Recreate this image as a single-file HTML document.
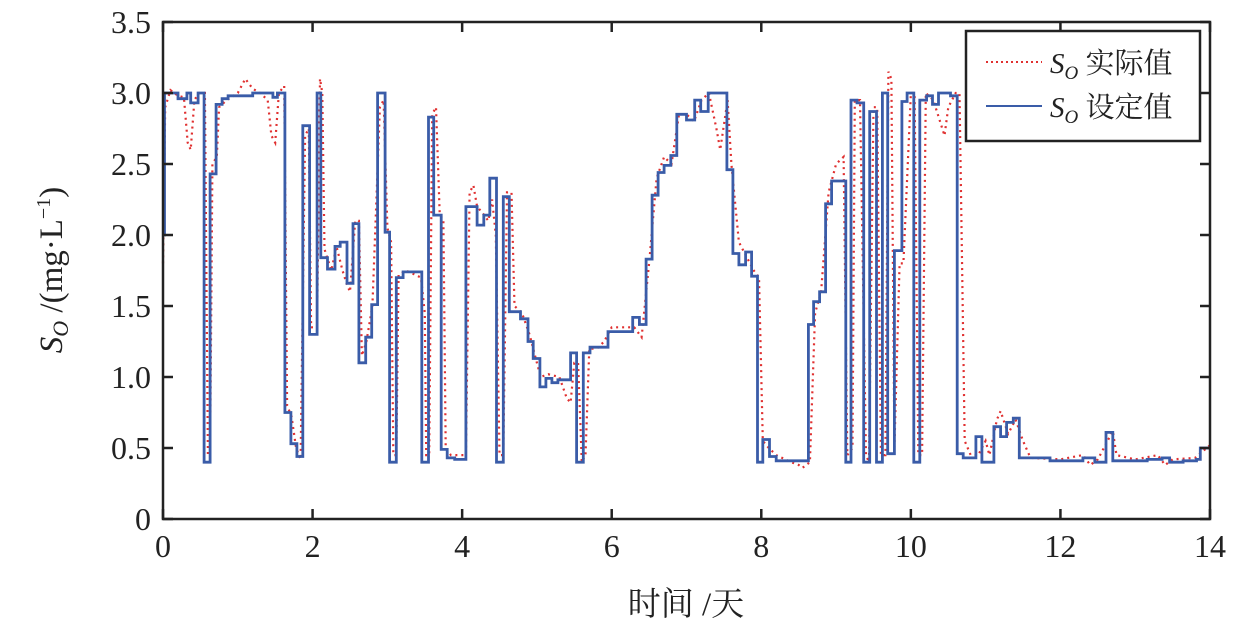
<!DOCTYPE html>
<html><head><meta charset="utf-8"><style>
html,body{margin:0;padding:0;background:#fff;}
svg{display:block;}
text{font-family:"Liberation Serif","Noto Serif CJK SC",serif;fill:#222;}
</style></head><body>
<svg id="chart" width="1260" height="631" viewBox="0 0 1260 631">
<rect x="0" y="0" width="1260" height="631" fill="#fff"/>
<g id="plot"></g>
<g id="axes"></g>
<g>
<rect x="966" y="31" width="234" height="110" fill="#fff" stroke="#222" stroke-width="2.5"/>
<line x1="986" y1="62" x2="1042" y2="62" stroke="#e03030" stroke-width="2" stroke-dasharray="2,3"/>
<text x="1050" y="73" font-size="29"><tspan font-style="italic">S</tspan><tspan font-style="italic" font-size="19" dy="6">O</tspan><tspan dy="-6"> 实际值</tspan></text>
<line x1="986" y1="106" x2="1042" y2="106" stroke="#3a5ca8" stroke-width="2"/>
<text x="1050" y="117" font-size="29"><tspan font-style="italic">S</tspan><tspan font-style="italic" font-size="19" dy="6">O</tspan><tspan dy="-6"> 设定值</tspan></text>
</g>
<text x="686" y="615" font-size="33" text-anchor="middle">时间 /天</text>
<text transform="translate(62,270) rotate(-90)" font-size="33" text-anchor="middle"><tspan font-style="italic">S</tspan><tspan font-style="italic" font-size="22" dy="6">O</tspan><tspan dy="-6"> /(mg·L</tspan><tspan font-size="20" dy="-12">−1</tspan><tspan dy="12">)</tspan></text>
</svg>
<script>
const xTicks = [0,2,4,6,8,10,12,14];
const yTicks = [0,0.5,1.0,1.5,2.0,2.5,3.0,3.5];
const yTickLabels = ["0","0.5","1.0","1.5","2.0","2.5","3.0","3.5"];
const setDays = [0,0.02,0.2,0.32,0.37,0.47,0.55,0.63,0.71,0.79,0.87,1.2,1.47,1.53,1.63,1.71,1.79,1.87,1.96,2.06,2.11,2.2,2.3,2.37,2.46,2.54,2.62,2.71,2.79,2.87,2.97,3.03,3.12,3.21,3.46,3.55,3.62,3.72,3.8,3.9,4.05,4.2,4.29,4.37,4.46,4.55,4.63,4.78,4.88,4.95,5.04,5.12,5.2,5.28,5.45,5.53,5.62,5.71,5.95,6.28,6.37,6.46,6.54,6.62,6.7,6.79,6.87,7.0,7.11,7.19,7.29,7.54,7.62,7.7,7.79,7.87,7.95,8.02,8.11,8.2,8.63,8.7,8.78,8.86,8.94,9.13,9.2,9.28,9.37,9.45,9.54,9.62,9.69,9.78,9.88,9.95,10.04,10.12,10.21,10.29,10.37,10.53,10.62,10.7,10.87,10.95,11.11,11.2,11.28,11.37,11.45,11.86,12.3,12.46,12.61,12.7,13.16,13.36,13.46,13.64,13.82,13.87,14];
const setValues = [2.0,3.0,2.96,3.0,2.93,3.0,0.4,2.43,2.92,2.96,2.98,3.0,2.97,3.0,0.75,0.53,0.44,2.77,1.3,3.0,1.84,1.76,1.92,1.95,1.66,2.08,1.1,1.28,1.51,3.0,2.02,0.4,1.7,1.74,0.4,2.83,2.14,0.49,0.43,0.42,2.2,2.07,2.14,2.4,0.4,2.27,1.46,1.41,1.25,1.13,0.93,0.99,0.96,0.98,1.17,0.4,1.17,1.21,1.32,1.42,1.37,1.83,2.28,2.44,2.49,2.56,2.85,2.81,2.95,2.87,3.0,2.46,1.87,1.79,1.88,1.71,0.4,0.56,0.44,0.41,1.37,1.53,1.6,2.22,2.38,0.4,2.95,2.93,0.4,2.87,0.4,3.0,0.46,1.89,2.94,3.0,0.4,2.95,2.98,2.92,3.0,2.98,0.46,0.43,0.58,0.4,0.65,0.58,0.68,0.71,0.43,0.41,0.43,0.4,0.61,0.41,0.42,0.43,0.4,0.41,0.42,0.5,0.5];
const actDays = [0,0.03,0.1,0.2,0.28,0.33,0.37,0.42,0.48,0.56,0.6,0.63,0.66,0.72,0.75,0.85,1.0,1.1,1.2,1.3,1.4,1.45,1.5,1.55,1.62,1.66,1.72,1.78,1.84,1.9,1.95,1.98,2.06,2.1,2.13,2.16,2.25,2.32,2.4,2.46,2.5,2.57,2.62,2.66,2.72,2.8,2.9,2.95,3.0,3.05,3.08,3.12,3.15,3.25,3.45,3.5,3.52,3.56,3.6,3.65,3.7,3.75,3.78,3.85,4.05,4.1,4.15,4.2,4.28,4.35,4.4,4.45,4.5,4.55,4.6,4.66,4.7,4.8,4.9,5.0,5.05,5.15,5.3,5.4,5.45,5.5,5.55,5.6,5.65,5.7,5.8,5.9,6.0,6.2,6.3,6.4,6.5,6.6,6.7,6.8,6.9,7.0,7.1,7.2,7.3,7.4,7.45,7.55,7.6,7.7,7.8,7.9,7.97,8.02,8.1,8.2,8.4,8.5,8.55,8.65,8.72,8.8,8.9,9.0,9.1,9.15,9.22,9.25,9.32,9.4,9.44,9.5,9.55,9.6,9.66,9.7,9.74,9.78,9.85,9.9,10.0,10.05,10.1,10.15,10.2,10.3,10.45,10.5,10.6,10.65,10.72,10.8,10.9,11.0,11.05,11.15,11.2,11.3,11.4,11.5,11.6,12.0,12.3,12.4,12.5,12.7,12.75,13.0,13.3,13.4,13.5,13.8,14.0];
const actValues = [1.8,2.9,3.02,2.98,2.97,2.65,2.6,2.95,3.0,3.0,0.45,0.45,2.5,2.55,2.9,2.95,3.0,3.1,3.03,3.0,2.95,2.7,2.65,3.0,3.05,0.8,0.72,0.5,0.42,2.7,2.75,1.35,1.35,3.1,3.0,1.9,1.75,1.92,1.75,1.65,1.6,2.1,2.1,1.15,1.25,1.5,2.9,2.95,2.05,1.95,0.45,0.45,1.72,1.75,1.7,1.45,0.45,0.45,2.85,2.9,2.15,2.1,0.5,0.45,0.45,2.3,2.35,2.2,2.15,2.1,2.25,2.0,0.45,0.45,2.3,2.3,1.5,1.45,1.3,1.1,1.0,1.02,1.0,0.85,0.82,1.1,1.1,0.4,0.45,1.2,1.2,1.25,1.35,1.35,1.35,1.28,1.8,2.4,2.55,2.5,2.85,2.85,2.8,2.95,3.0,2.75,2.6,2.95,2.5,1.95,1.85,1.75,1.7,0.55,0.5,0.45,0.4,0.38,0.36,0.4,1.45,1.6,2.3,2.5,2.55,0.45,0.5,2.95,2.95,0.45,0.4,2.9,2.9,0.45,0.45,3.15,3.1,0.5,1.8,1.8,3.0,3.0,0.45,0.45,3.0,2.95,2.7,2.9,3.0,3.0,0.55,0.45,0.45,0.55,0.45,0.7,0.76,0.6,0.7,0.55,0.43,0.42,0.45,0.38,0.42,0.62,0.45,0.42,0.45,0.38,0.42,0.43,0.52];

const X0=163,X1=1210,Y0=519,Y1=22;
function sx(d){return X0+(d-0)/(14-0)*(X1-X0);}
function sy(v){return Y0-(v-0)/(3.5-0)*(Y0-Y1);}
const NS="http://www.w3.org/2000/svg";
const plot=document.getElementById('plot');
const axes=document.getElementById('axes');

// actual (red dotted)
let pa="";
for(let i=0;i<actDays.length;i++){pa+=(i?"L":"M")+sx(actDays[i]).toFixed(1)+","+sy(actValues[i]).toFixed(1);}
const ra=document.createElementNS(NS,'path');
ra.setAttribute('d',pa);ra.setAttribute('fill','none');ra.setAttribute('stroke','#e03030');
ra.setAttribute('stroke-width','2.2');ra.setAttribute('stroke-dasharray','2,4');


plot.appendChild(ra);

// setpoint (blue step)
let ps="";
for(let i=0;i<setDays.length;i++){
  const x=sx(setDays[i]).toFixed(1), y=sy(setValues[i]).toFixed(1);
  if(i===0) ps+="M"+x+","+y;
  else ps+="L"+x+","+sy(setValues[i-1]).toFixed(1)+"L"+x+","+y;
}
const rs=document.createElementNS(NS,'path');
rs.setAttribute('d',ps);rs.setAttribute('fill','none');rs.setAttribute('stroke','#3a5ca8');
rs.setAttribute('stroke-width','2.8');rs.setAttribute('stroke-linejoin','miter');


plot.appendChild(rs);

// frame
const fr=document.createElementNS(NS,'rect');
fr.setAttribute('x',X0);fr.setAttribute('y',Y1);fr.setAttribute('width',X1-X0);fr.setAttribute('height',Y0-Y1);
fr.setAttribute('fill','none');fr.setAttribute('stroke','#222');fr.setAttribute('stroke-width','2.5');


axes.appendChild(fr);

xTicks.forEach(function(t){
  const x=sx(t);
  [[Y0,Y0-10],[Y1,Y1+10]].forEach(function(p){
    const l=document.createElementNS(NS,'line');
    l.setAttribute('x1',x);l.setAttribute('x2',x);l.setAttribute('y1',p[0]);l.setAttribute('y2',p[1]);
    l.setAttribute('stroke','#222');l.setAttribute('stroke-width','2.5');
    
    
    axes.appendChild(l);
  });
  const tx=document.createElementNS(NS,'text');
  tx.setAttribute('x',x);tx.setAttribute('y',Y0+38);tx.setAttribute('font-size','32');tx.setAttribute('text-anchor','middle');
  tx.textContent=String(t);
  
  
  axes.appendChild(tx);
});
yTicks.forEach(function(t,i){
  const y=sy(t);
  [[X0,X0+10],[X1,X1-10]].forEach(function(p){
    const l=document.createElementNS(NS,'line');
    l.setAttribute('y1',y);l.setAttribute('y2',y);l.setAttribute('x1',p[0]);l.setAttribute('x2',p[1]);
    l.setAttribute('stroke','#222');l.setAttribute('stroke-width','2.5');
    
    
    axes.appendChild(l);
  });
  const tx=document.createElementNS(NS,'text');
  tx.setAttribute('x',X0-12);tx.setAttribute('y',y+11);tx.setAttribute('font-size','32');tx.setAttribute('text-anchor','end');
  tx.textContent=yTickLabels[i];
  
  
  axes.appendChild(tx);
});
</script>
</body></html>
